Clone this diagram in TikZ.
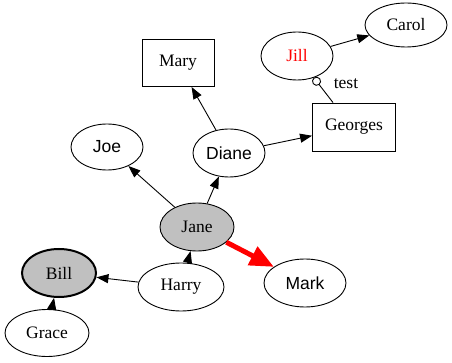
\documentclass[tikz,border=0pt]{standalone}
\usepackage{fontspec}
\setmainfont{Liberation Serif}
\newfontfamily\arialfont{Liberation Sans}
\usetikzlibrary{shapes.geometric,arrows.meta}
\begin{document}
\begin{tikzpicture}[x=1pt,y=-1pt,
  base/.style={draw=black,line width=0.9pt,inner sep=0pt,font=\fontsize{17.5pt}{19pt}\selectfont},
  sansfont/.style={font=\arialfont\fontsize{17.5pt}{19pt}\selectfont},
  ell/.style={base,ellipse},
  boxn/.style={base,rectangle},
  edge/.style={line width=0.9pt,-{Triangle[length=12pt,width=9pt]}},
  grayfill/.style={fill={rgb,255:red,192;green,192;blue,192}}
]
\useasboundingbox (0,0) rectangle (452,363);
\node[ell,minimum width=82pt,minimum height=44pt] (carol) at (406,25) {Carol};
\node[ell,minimum width=72pt,minimum height=48pt,text=red] (jill) at (297,56) {Jill};
\node[boxn,minimum width=83pt,minimum height=48pt] (georges) at (354,127) {Georges};
\node[boxn,minimum width=72pt,minimum height=47pt] (mary) at (178,63) {Mary};
\node[ell,sansfont,minimum width=72pt,minimum height=46pt] (joe) at (107,147) {Joe};
\node[ell,sansfont,minimum width=72pt,minimum height=48pt] (diane) at (229,153) {Diane};
\node[ell,grayfill,minimum width=74pt,minimum height=48pt] (jane) at (197,227) {Jane};
\node[ell,minimum width=86pt,minimum height=48pt] (harry) at (181,287) {Harry};
\node[ell,sansfont,minimum width=82pt,minimum height=48pt] (mark) at (305,283) {Mark};
\node[ell,grayfill,line width=2pt,minimum width=74pt,minimum height=48pt] (bill) at (59,273) {Bill};
\node[ell,minimum width=84pt,minimum height=47pt] (grace) at (47,333) {Grace};
\node[font=\fontsize{17.5pt}{19pt}\selectfont,inner sep=0pt] (testlbl) at (346,84) {test};

\draw[edge] (jane) -- (joe);
\draw[edge] (jane) -- (diane);
\draw[edge] (diane) -- (mary);
\draw[edge] (diane) -- (georges);
\draw[edge] (jill) -- (carol);
\draw[line width=0.9pt,-{Circle[open,length=9pt,width=9pt,fill=white]}] (georges.north) ++(-21,0) coordinate (gtop) -- (jill);
\draw[red,line width=5pt,-{Triangle[length=24pt,width=20pt]}] (jane) -- (mark);
\draw[edge] (harry) -- (jane);
\draw[edge] (harry) -- (bill);
\draw[edge] (grace) -- (bill);
\end{tikzpicture}
\end{document}
